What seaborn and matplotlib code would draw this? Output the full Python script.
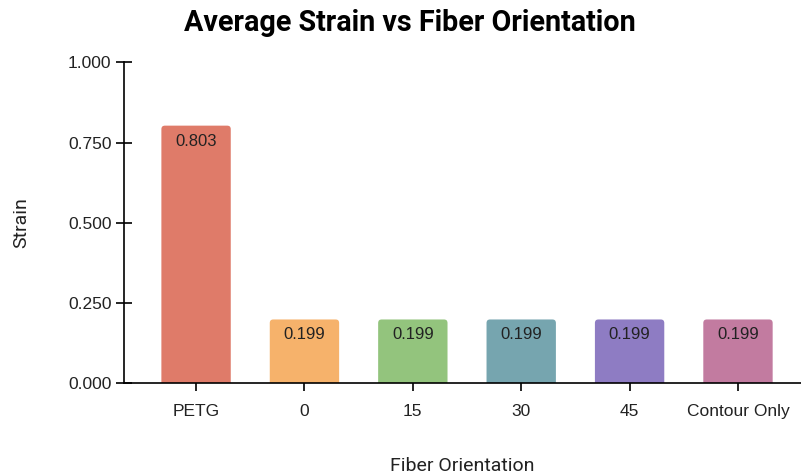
import matplotlib
matplotlib.use("Agg")
import matplotlib.pyplot as plt
from matplotlib.patches import FancyBboxPatch
import seaborn as sns
import pandas as pd

categories = ["PETG", "0", "15", "30", "45", "Contour Only"]
strain = [0.803, 0.199, 0.199, 0.199, 0.199, 0.199]
colors = ["#DF7B69", "#F6B26B", "#93C47D", "#76A5AF", "#8E7CC3", "#C27BA0"]
y_ticks = [0.0, 0.25, 0.5, 0.75, 1.0]

df = pd.DataFrame({"Fiber Orientation": categories, "Strain": strain})

sns.set_style("white")
plt.rcParams["font.family"] = ["Roboto", "DejaVu Sans"]

fig = plt.figure(figsize=(8.01, 4.74), dpi=100)
ax = fig.add_axes([0.1548, 0.1913, 0.845, 0.677])

sns.barplot(data=df, x="Fiber Orientation", y="Strain", hue="Fiber Orientation",
            palette=colors, order=categories, hue_order=categories,
            width=0.64, legend=False, ax=ax, saturation=1)

ax.set_xlim(-0.665, 5.58)
ax.set_ylim(0, 1.0)

# Swap the plain rectangles for bars with softly rounded tops
px_x = 1 / 108.3
px_y = 1 / 321.0
r = 3.5
for p in list(ax.patches):
    x0, y0 = p.get_x(), p.get_y()
    w, h = p.get_width(), p.get_height()
    fc = p.get_facecolor()
    p.remove()
    fb = FancyBboxPatch((x0, y0 - r * px_y * 2), w, h + r * px_y * 2,
                        boxstyle=f"round,pad=0,rounding_size={r * px_x}",
                        mutation_aspect=px_y / px_x,
                        facecolor=fc, edgecolor="none", clip_on=True)
    ax.add_patch(fb)

for i, v in enumerate(strain):
    ax.text(i, v - 0.048, f"{v:.3f}", ha="center", va="center",
            fontsize=12, color="#222222", family=["Liberation Sans", "DejaVu Sans"])

ax.set_yticks(y_ticks)
ax.set_yticklabels([f"{t:.3f}" for t in y_ticks])
ax.tick_params(axis="both", bottom=True, left=True, direction="inout",
               length=12, width=1.2, color="black", labelsize=12.5,
               labelcolor="#222222")
ax.tick_params(axis="x", pad=9)
ax.tick_params(axis="y", pad=3)
for lab in ax.get_xticklabels() + ax.get_yticklabels():
    lab.set_family(["Liberation Sans", "DejaVu Sans"])

for s in ["top", "right"]:
    ax.spines[s].set_visible(False)
for s in ["left", "bottom"]:
    ax.spines[s].set_color("black")
    ax.spines[s].set_linewidth(1.2)

ax.set_xlabel("Fiber Orientation", fontsize=14, labelpad=27, color="#222222")
ax.set_ylabel("Strain", fontsize=14, labelpad=27, color="#222222")

fig.text(0.512, 0.952, "Average Strain vs Fiber Orientation", ha="center",
         va="center", fontsize=20.7, fontweight="bold", color="black")

fig.savefig("out.png", dpi=100)
